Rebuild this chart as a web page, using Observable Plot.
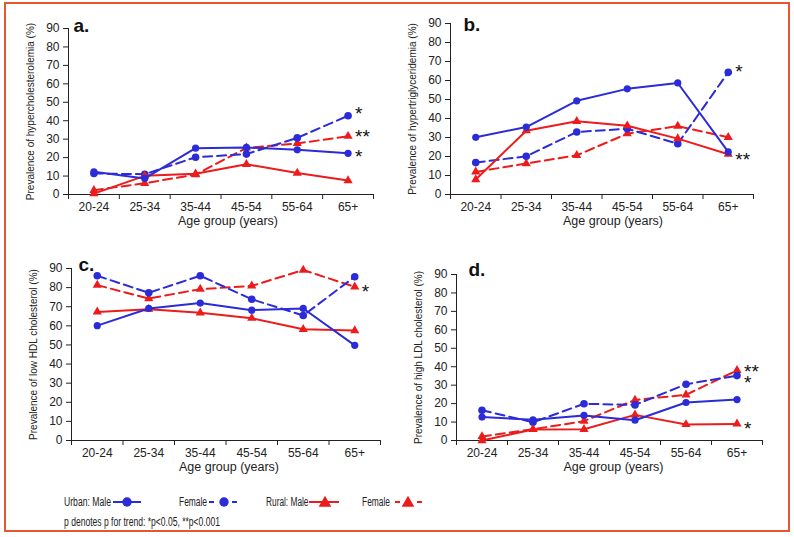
<!DOCTYPE html>
<html><head><meta charset="utf-8">
<script src="https://cdn.jsdelivr.net/npm/d3@7"></script>
<script src="https://cdn.jsdelivr.net/npm/@observablehq/plot@0.6"></script>
<style>
body{margin:0;background:#fff;}
#root{position:relative;width:794px;height:537px;overflow:hidden;background:#fff;font-family:"Liberation Sans",Arial,sans-serif;}
#frame{position:absolute;left:4px;top:2px;width:782px;height:526px;border:2px solid #e4582f;}
.panel{position:absolute;}
#legend{position:absolute;left:0;top:0;}
</style></head><body><div id="root"><div id="frame"></div></div>
<script>
// Categories and ticks
const ages = ["20-24","25-34","35-44","45-54","55-64","65+"];
const yTicks = [0,10,20,30,40,50,60,70,80,90];

// a. Hypercholesterolemia (%)
const cholUrbanMale   = [12.3, 8.7, 25.1, 25.5, 24.2, 22.3];
const cholUrbanFemale = [11.4, 11.0, 20.2, 21.9, 30.7, 42.7];
const cholRuralMale   = [0.5, 10.1, 11.2, 16.4, 11.6, 7.6];
const cholRuralFemale = [2.3, 6.1, 10.8, 25.3, 27.7, 31.6];
const cholNotes = [["uf","*",46.5],["rf","**",34],["um","*",23]];

// b. Hypertriglyceridemia (%)
const trigUrbanMale   = [30.1, 35.5, 49.3, 55.6, 58.7, 22.4];
const trigUrbanFemale = [16.8, 20.1, 32.9, 34.6, 26.7, 64.3];
const trigRuralMale   = [7.9, 33.6, 38.5, 36.2, 29.4, 21.2];
const trigRuralFemale = [11.9, 16.3, 20.6, 32.0, 36.0, 30.1];
const trigNotes = [["uf","*",67],["rm","**",21]];

// c. Low HDL cholesterol (%)
const hdlUrbanMale   = [60.1, 69.1, 71.9, 68.2, 69.1, 49.8];
const hdlUrbanFemale = [86.2, 77.3, 86.2, 73.9, 65.4, 85.7];
const hdlRuralMale   = [67.3, 68.7, 66.8, 64.0, 58.2, 57.5];
const hdlRuralFemale = [81.3, 74.3, 79.2, 80.9, 89.2, 80.4];
const hdlNotes = [["rf","*",80.6]];

// d. High LDL cholesterol (%)
const ldlUrbanMale   = [12.7, 11.2, 13.6, 11.0, 20.6, 22.2];
const ldlUrbanFemale = [16.4, 9.9, 19.9, 19.3, 30.5, 35.2];
const ldlRuralMale   = [0.0, 6.0, 6.1, 13.9, 8.7, 9.0];
const ldlRuralFemale = [2.2, 6.1, 10.5, 22.0, 24.8, 38.0];
const ldlNotes = [["rf","**",39.7],["uf","*",33.8],["rm","*",9.1]];

const BLUE = "#2b2bd8", RED = "#ec1c1c", INK = "#222";
const styles = {
  um: {color: BLUE, dash: null, symbol: "circle", r: 3.6},
  uf: {color: BLUE, dash: "9,5", symbol: "circle", r: 3.8},
  rm: {color: RED, dash: null, symbol: "triangle", r: 3.4},
  rf: {color: RED, dash: "9,5", symbol: "triangle", r: 3.4}
};

const panels = [
  {L:0, T:0, W:397, H:235, ml:68, mr:24, mt:28, mb:41, letter:"a.", ldx:5, ldy:-10, tdx:7,
   ylabel:"Prevalence of hypercholesterolemia (%)",
   series:{rf:cholRuralFemale, uf:cholUrbanFemale, rm:cholRuralMale, um:cholUrbanMale}, notes:cholNotes},
  {L:397, T:0, W:397, H:235, ml:53, mr:41, mt:23, mb:41, letter:"b.", ldx:13, ldy:-6, tdx:11,
   ylabel:"Prevalence of hypertriglyceridemia (%)",
   series:{rf:trigRuralFemale, uf:trigUrbanFemale, rm:trigRuralMale, um:trigUrbanMale}, notes:trigNotes},
  {L:0, T:235, W:397, H:245, ml:71, mr:17, mt:33, mb:40, letter:"c.", ldx:7, ldy:-11, tdx:3,
   ylabel:"Prevalence of low HDL cholesterol (%)",
   series:{rf:hdlRuralFemale, uf:hdlUrbanFemale, rm:hdlRuralMale, um:hdlUrbanMale}, notes:hdlNotes},
  {L:397, T:235, W:397, H:245, ml:59, mr:32, mt:39, mb:40, letter:"d.", ldx:12, ldy:-12, tdx:4,
   ylabel:"Prevalence of high LDL cholesterol (%)",
   series:{rf:ldlRuralFemale, uf:ldlUrbanFemale, rm:ldlRuralMale, um:ldlUrbanMale}, notes:ldlNotes}
];

const root = document.getElementById("root");
const idx = d3.range(ages.length);
const bounds = d3.range(ages.length + 1).map(i => i - 0.5);

for (const p of panels) {
  const marks = [
    Plot.ruleY([0], {stroke: INK, strokeWidth: 1}),
    Plot.ruleX([-0.5], {stroke: INK, strokeWidth: 1}),
    Plot.axisY({ticks: yTicks, tickSize: 5, tickPadding: 4, label: null, fontSize: 12, fill: INK, stroke: INK}),
    Plot.axisX({ticks: idx, tickSize: 0, tickPadding: 8, tickFormat: i => ages[i], label: null, fontSize: 12, fill: INK}),
    Plot.axisX({ticks: bounds, tickSize: 5, tickFormat: () => "", label: null, stroke: INK}),
    Plot.text([p.ylabel], {frameAnchor: "left", textAnchor: "middle", rotate: -90, dx: -38, fontSize: 10, fill: INK}),
    Plot.text(["Age group (years)"], {frameAnchor: "bottom", textAnchor: "middle", dx: p.tdx, dy: 30, fontSize: 12.5, fill: INK}),
    Plot.text([p.letter], {frameAnchor: "top-left", dx: p.ldx, dy: p.ldy, textAnchor: "start", fontSize: 19, fontWeight: "bold", fill: "#111"})
  ];
  for (const key of ["rf", "uf", "rm", "um"]) {
    const s = styles[key];
    const rows = p.series[key].map((v, i) => ({i, v}));
    marks.push(Plot.line(rows, {x: "i", y: "v", stroke: s.color, strokeWidth: 2, strokeDasharray: s.dash}));
    marks.push(Plot.dot(rows, {x: "i", y: "v", symbol: s.symbol, r: s.r, fill: s.color, stroke: "none"}));
  }
  const noteRows = p.notes.map(([k, t, y]) => ({i: ages.length - 1, y, t}));
  marks.push(Plot.text(noteRows, {x: "i", y: "y", text: "t", dx: 7, dy: 5, textAnchor: "start", fontSize: 19, fill: "#111"}));

  const chart = Plot.plot({
    width: p.W, height: p.H,
    marginLeft: p.ml, marginRight: p.mr, marginTop: p.mt, marginBottom: p.mb,
    x: {type: "linear", domain: [-0.5, ages.length - 0.5]},
    y: {domain: [0, 90]},
    style: {fontFamily: "'Liberation Sans', Arial, sans-serif", fontSize: "12px", background: "transparent", overflow: "visible"},
    marks
  });
  const div = document.createElement("div");
  div.className = "panel";
  div.style.left = p.L + "px";
  div.style.top = p.T + "px";
  div.appendChild(chart);
  root.appendChild(div);
}

// Legend
const legendItems = [
  {label: "Urban: Male", tx: 64, tw: 47, key: "um", x1: 113, x2: 141, mx: 127},
  {label: "Female", tx: 179, tw: 28, key: "uf", x1: 209, x2: 237, mx: 224},
  {label: "Rural: Male", tx: 266, tw: 42.5, key: "rm", x1: 309, x2: 339, mx: 325},
  {label: "Female", tx: 362, tw: 28, key: "rf", x1: 395, x2: 422, mx: 408}
];
const svg = d3.create("svg").attr("id", "legend").attr("width", 794).attr("height", 537)
  .style("font-family", "'Liberation Sans', Arial, sans-serif");
const ly = 502;
for (const it of legendItems) {
  const s = styles[it.key];
  svg.append("text").attr("x", it.tx).attr("y", ly + 4).attr("font-size", 12).attr("fill", INK)
    .attr("textLength", it.tw).attr("lengthAdjust", "spacingAndGlyphs").text(it.label);
  const line = svg.append("line").attr("x1", it.x1).attr("x2", it.x2).attr("y1", ly).attr("y2", ly)
    .attr("stroke", s.color).attr("stroke-width", 2);
  if (s.dash) line.attr("stroke-dasharray", `5,${(it.x2 - it.x1) - 10}`);
  if (s.symbol === "circle") {
    svg.append("circle").attr("cx", it.mx).attr("cy", ly).attr("r", 4.7).attr("fill", s.color);
  } else {
    svg.append("path").attr("d", d3.symbol(d3.symbolTriangle, 70)()).attr("transform", `translate(${it.mx},${ly + 1})`).attr("fill", s.color);
  }
}
svg.append("text").attr("x", 64).attr("y", 526).attr("font-size", 12).attr("fill", INK)
  .attr("textLength", 156).attr("lengthAdjust", "spacingAndGlyphs")
  .text("p denotes p for trend: *p<0.05, **p<0.001");
root.appendChild(svg.node());
</script></body></html>
